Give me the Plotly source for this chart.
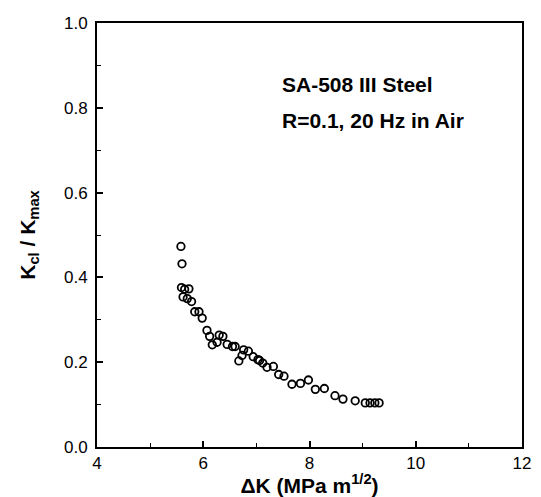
import plotly.graph_objects as go

delta_k = [5.58, 5.60, 5.59, 5.65, 5.73, 5.62, 5.70, 5.78, 5.84, 5.92, 5.98, 6.07, 6.12,
           6.17, 6.26, 6.30, 6.37, 6.45, 6.55, 6.60, 6.67, 6.73, 6.76, 6.85, 6.94, 7.03,
           7.06, 7.12, 7.20, 7.32, 7.42, 7.52, 7.67, 7.83, 7.98, 8.11, 8.28, 8.48, 8.63,
           8.86, 9.05, 9.14, 9.23, 9.31]
kcl_kmax = [0.473, 0.432, 0.376, 0.372, 0.373, 0.354, 0.350, 0.343, 0.319, 0.319, 0.304,
            0.275, 0.261, 0.241, 0.247, 0.264, 0.261, 0.242, 0.237, 0.237, 0.203, 0.216,
            0.229, 0.226, 0.213, 0.206, 0.204, 0.198, 0.188, 0.190, 0.171, 0.167, 0.148,
            0.150, 0.158, 0.136, 0.138, 0.121, 0.113, 0.109, 0.104, 0.104, 0.104, 0.104]

x_ticks = [4, 6, 8, 10, 12]
y_ticks = [0.0, 0.2, 0.4, 0.6, 0.8, 1.0]
y_tick_text = ["0.0", "0.2", "0.4", "0.6", "0.8", "1.0"]
legend_lines = ["SA-508 III Steel", "R=0.1, 20 Hz in Air"]

fig = go.Figure()
fig.add_trace(go.Scatter(
    x=delta_k, y=kcl_kmax, mode="markers",
    marker=dict(symbol="circle-open", size=7.5, color="black", line=dict(width=1.8)),
    showlegend=False,
))

font_family = "Liberation Sans, Arial, sans-serif"

fig.update_layout(
    width=533, height=489,
    margin=dict(l=89, r=19, t=6, b=50),
    paper_bgcolor="white", plot_bgcolor="white",
    font=dict(family=font_family, color="black", size=17),
    xaxis=dict(
        range=[4, 12], tickvals=x_ticks, ticktext=[str(v) for v in x_ticks],
        ticks="inside", ticklen=6, tickwidth=1.5, tickcolor="black",
        minor=dict(dtick=1, tick0=4, ticks="inside", ticklen=4, tickwidth=1.2, tickcolor="black"),
        showline=True, linecolor="black", linewidth=2, mirror=True,
        showgrid=False, zeroline=False,
        tickfont=dict(size=17), ticklabeloverflow="allow",
        title=dict(text="<b>ΔK (MPa m<sup>1/2</sup>)</b>", font=dict(size=21), standoff=2),
    ),
    yaxis=dict(
        range=[0, 1.0], tickvals=y_ticks, ticktext=y_tick_text,
        ticks="inside", ticklen=6, tickwidth=1.5, tickcolor="black",
        minor=dict(dtick=0.1, tick0=0, ticks="inside", ticklen=4, tickwidth=1.2, tickcolor="black"),
        showline=True, linecolor="black", linewidth=2, mirror=True,
        showgrid=False, zeroline=False,
        tickfont=dict(size=17), ticklabelstandoff=4, ticklabeloverflow="allow",
        title=dict(text="<b>K<sub>cl</sub> / K<sub>max</sub></b>", font=dict(size=21), standoff=23),
    ),
)

for text, yv in zip(legend_lines, [0.855, 0.77]):
    fig.add_annotation(
        xref="x", yref="y", x=7.45, y=yv, xanchor="left", yanchor="middle",
        text="<b>" + text + "</b>", showarrow=False, font=dict(size=21),
    )

fig.write_html("out.html")
